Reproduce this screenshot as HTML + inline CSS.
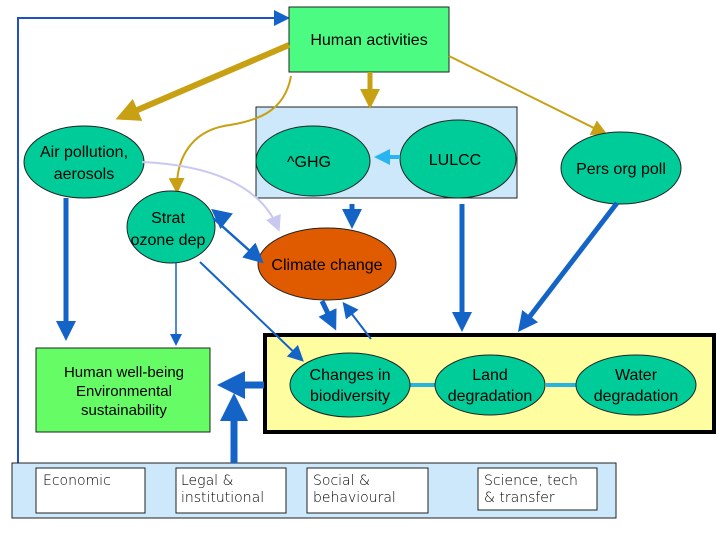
<!DOCTYPE html>
<html><head><meta charset="utf-8"><style>
body{margin:0;background:#fff;}
svg{display:block;font-family:"Liberation Sans",sans-serif;}
</style></head><body>
<svg width="720" height="540" viewBox="0 0 720 540" xmlns="http://www.w3.org/2000/svg">
<defs>
<marker id="ab" markerWidth="4" markerHeight="4" refX="3" refY="2" orient="auto" markerUnits="strokeWidth"><path d="M0,0 L4,2 L0,4 z" fill="#1464c8"/></marker>
<marker id="ag" markerWidth="4" markerHeight="4" refX="3" refY="2" orient="auto" markerUnits="strokeWidth"><path d="M0,0 L4,2 L0,4 z" fill="#c8a014"/></marker>
<marker id="agt" markerWidth="8" markerHeight="8" refX="6" refY="4" orient="auto" markerUnits="strokeWidth"><path d="M0,0 L8,4 L0,8 z" fill="#c8a014"/></marker>
<marker id="abt" markerWidth="8" markerHeight="8" refX="6" refY="4" orient="auto" markerUnits="strokeWidth"><path d="M0,0 L8,4 L0,8 z" fill="#1464c8"/></marker>
<marker id="al" markerWidth="8" markerHeight="8" refX="6" refY="4" orient="auto" markerUnits="strokeWidth"><path d="M0,0 L8,4 L0,8 z" fill="#c8c8f0"/></marker>
<marker id="ac" markerWidth="4" markerHeight="4" refX="3" refY="2" orient="auto" markerUnits="strokeWidth"><path d="M0,0 L4,2 L0,4 z" fill="#28b4f0"/></marker>
</defs>
<polyline points="18,463 18,18 286,18" fill="none" stroke="#1e50c8" stroke-width="2" marker-end="url(#abt)"/>
<rect x="289" y="7" width="160" height="65" fill="#4cfc82" stroke="#222" stroke-width="1"/>
<text x="369" y="45" font-size="16" text-anchor="middle">Human activities</text>
<rect x="256" y="107" width="261" height="91" fill="#cce8fa" stroke="#222" stroke-width="1"/>
<rect x="265" y="335" width="449" height="97" fill="#fefea0" stroke="#000" stroke-width="4"/>
<rect x="36" y="348" width="174" height="84" fill="#66fc66" stroke="#222" stroke-width="1"/>
<rect x="12" y="463" width="604" height="55" fill="#cce8fa" stroke="#222" stroke-width="1"/>
<rect x="36" y="468" width="109" height="45" fill="#fff" stroke="#222"/>
<rect x="176" y="468" width="110" height="45" fill="#fff" stroke="#222"/>
<rect x="307" y="468" width="121" height="45" fill="#fff" stroke="#222"/>
<rect x="478" y="468" width="119" height="42" fill="#fff" stroke="#222"/>
<line x1="370" y1="72" x2="370" y2="104" stroke="#c8a014" stroke-width="5" marker-end="url(#ag)"/>
<line x1="449" y1="56" x2="604" y2="133" stroke="#c8a014" stroke-width="2" marker-end="url(#agt)"/>
<path d="M291,76 C285,110 260,120 230,125 C190,130 176,160 177,190" fill="none" stroke="#c8a014" stroke-width="2" marker-end="url(#agt)"/>
<ellipse cx="84" cy="162" rx="60" ry="36" fill="#00cc99" stroke="#222"/>
<path d="M142,162 C210,165 260,185 278,228" fill="none" stroke="#c8c8f0" stroke-width="2" marker-end="url(#al)"/>
<line x1="289" y1="44" x2="122" y2="167" stroke="#c8a014" stroke-width="6" marker-end="url(#ag)" transform="translate(-5,-44) translate(0,0)" opacity="0"/>
<line x1="289" y1="45" x2="124" y2="116" stroke="#c8a014" stroke-width="6" marker-end="url(#ag)" opacity="0"/>
<line x1="289" y1="45" x2="121" y2="117" stroke="#c8a014" stroke-width="6" marker-end="url(#ag)"/>
<ellipse cx="313" cy="161" rx="57" ry="35" fill="#00cc99" stroke="#222"/>
<ellipse cx="458" cy="159" rx="58" ry="39" fill="#00cc99" stroke="#222"/>
<ellipse cx="621" cy="168" rx="60" ry="36" fill="#00cc99" stroke="#222"/>
<ellipse cx="171" cy="227" rx="44" ry="36" fill="#00cc99" stroke="#222"/>
<ellipse cx="327" cy="264" rx="69" ry="36" fill="#e05a00" stroke="#222"/>
<line x1="410" y1="385" x2="435" y2="385" stroke="#28b4e0" stroke-width="4"/>
<line x1="546" y1="385" x2="576" y2="385" stroke="#28b4e0" stroke-width="4"/>
<ellipse cx="350" cy="385" rx="60" ry="32" fill="#00cc99" stroke="#222"/>
<ellipse cx="490" cy="385" rx="55" ry="30" fill="#00cc99" stroke="#222"/>
<ellipse cx="636" cy="385" rx="60" ry="30" fill="#00cc99" stroke="#222"/>
<line x1="400" y1="157" x2="378" y2="157" stroke="#28b4f0" stroke-width="4" marker-end="url(#ac)"/>
<line x1="66" y1="198" x2="66" y2="336" stroke="#1464c8" stroke-width="5" marker-end="url(#ab)"/>
<line x1="176" y1="263" x2="176" y2="343" stroke="#1464c8" stroke-width="1.5" marker-end="url(#abt)"/>
<line x1="352" y1="204" x2="352" y2="224" stroke="#1464c8" stroke-width="5" marker-end="url(#ab)"/>
<line x1="462" y1="204" x2="462" y2="327" stroke="#1464c8" stroke-width="5" marker-end="url(#ab)"/>
<line x1="617" y1="203" x2="521" y2="328" stroke="#1464c8" stroke-width="5" marker-end="url(#ab)"/>
<line x1="213" y1="218" x2="260" y2="260" stroke="#1464c8" stroke-width="2.5" marker-end="url(#abt)"/>
<line x1="220" y1="216" x2="215" y2="212" stroke="#1464c8" stroke-width="2.5" marker-end="url(#abt)"/>
<line x1="200" y1="262" x2="301" y2="359" stroke="#1464c8" stroke-width="2" marker-end="url(#abt)"/>
<line x1="322" y1="301" x2="334" y2="326" stroke="#1464c8" stroke-width="5" marker-end="url(#ab)"/>
<line x1="371" y1="339" x2="345" y2="305" stroke="#1464c8" stroke-width="2" marker-end="url(#abt)"/>
<line x1="264" y1="385" x2="224" y2="385" stroke="#1464c8" stroke-width="7" marker-end="url(#ab)"/>
<line x1="234" y1="463" x2="234" y2="400" stroke="#1464c8" stroke-width="7" marker-end="url(#ab)"/>
<g font-size="16" text-anchor="middle" fill="#000">
<text x="84" y="157">Air pollution,</text><text x="84" y="179">aerosols</text>
<text x="309" y="167">^GHG</text>
<text x="455" y="165">LULCC</text>
<text x="621" y="174">Pers org poll</text>
<text x="168" y="223">Strat</text><text x="168" y="245">ozone dep</text>
<text x="327" y="270">Climate change</text>
<text x="350" y="380">Changes in</text><text x="350" y="401">biodiversity</text>
<text x="490" y="380">Land</text><text x="490" y="401">degradation</text>
<text x="636" y="380">Water</text><text x="636" y="401">degradation</text>
<text x="124" y="377" font-size="15">Human well-being</text>
<text x="124" y="396" font-size="15">Environmental</text>
<text x="124" y="415" font-size="15">sustainability</text>
</g>
<g font-size="14" fill="#000" font-family="'DejaVu Sans',sans-serif" font-weight="300">
<text x="43" y="485">Economic</text>
<text x="181" y="485">Legal &amp;</text><text x="181" y="502">institutional</text>
<text x="313" y="485">Social &amp;</text><text x="313" y="502">behavioural</text>
<text x="484" y="485">Science, tech</text><text x="484" y="502">&amp; transfer</text>
</g>
</svg>
</body></html>
